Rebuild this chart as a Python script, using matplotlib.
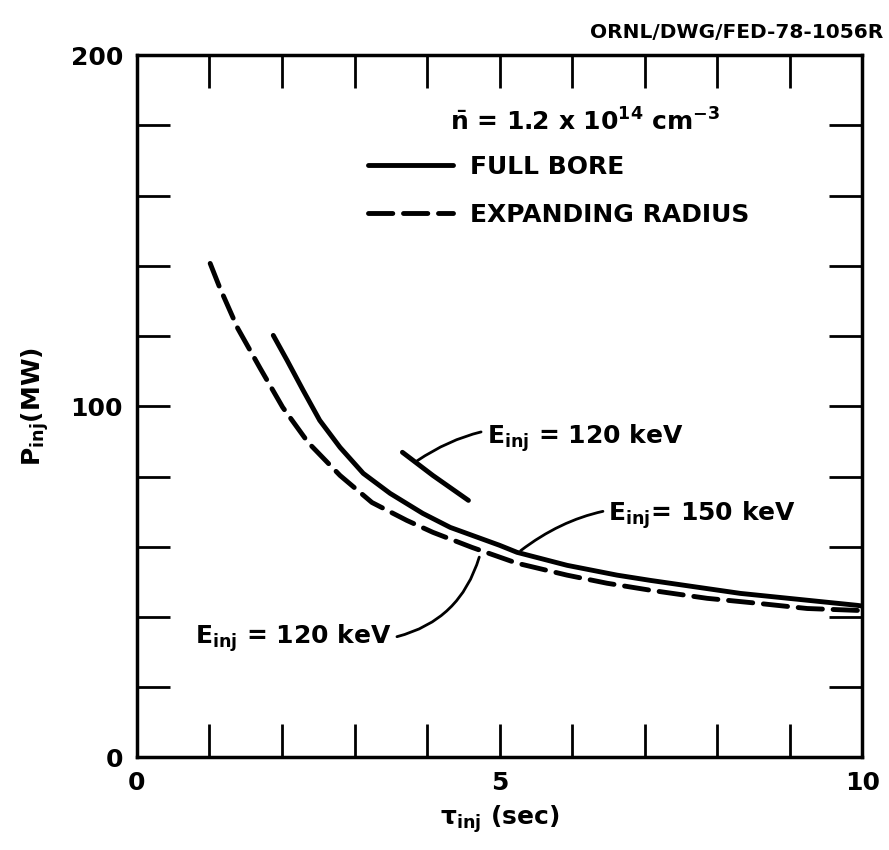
import matplotlib

matplotlib.use("Agg")
import matplotlib.pyplot as plt
from matplotlib.ticker import MultipleLocator

# Full bore, E_inj = 150 keV
full_150_x = [1.88, 2.07, 2.29, 2.52, 2.8, 3.12, 3.49, 3.94, 4.32, 5.0, 5.24,
              5.93, 6.62, 7.08, 8.32, 9.93, 10.0]
full_150_y = [120.2, 113.1, 104.6, 96, 88.3, 80.9, 75.2, 69.5, 65.5, 60.4, 58.4,
              54.7, 51.9, 50.4, 46.7, 43.3, 43.1]

# Expanding radius, E_inj = 120 keV
exp_120_x = [1.01, 1.14, 1.39, 1.70, 2.01, 2.36, 2.80, 3.24, 3.72, 4.08, 4.62,
             5.24, 5.93, 6.48, 7.08, 7.86, 8.55, 9.24, 9.88, 10.0]
exp_120_y = [140.7, 133.9, 122.2, 110.8, 99.7, 89.7, 80.3, 72.6, 67.5, 64.1, 59.8,
             55.3, 51.9, 49.6, 47.6, 45.3, 43.9, 42.4, 41.9, 41.8]

# Full bore, E_inj = 120 keV (short segment)
full_120_x = [3.66, 4.08, 4.57]
full_120_y = [86.9, 80.3, 73.2]

FS = 18
plt.rcParams["mathtext.default"] = "bf"

fig = plt.figure(figsize=(8.89, 8.5), dpi=100)
ax = fig.add_axes([0.154, 0.109, 0.816, 0.826])

lw = 3.5
h_full, = ax.plot(full_150_x, full_150_y, color="black", lw=lw,
                  solid_capstyle="round", solid_joinstyle="round", label="FULL BORE")
h_exp, = ax.plot(exp_120_x, exp_120_y, color="black", lw=lw,
                 dashes=(5, 2.2), dash_capstyle="round", dash_joinstyle="round",
                 label="EXPANDING RADIUS")
ax.plot(full_120_x, full_120_y, color="black", lw=lw, solid_capstyle="round")

ax.set_xlim(0, 10)
ax.set_ylim(0, 200)
ax.set_xticks([0, 5, 10])
ax.set_yticks([0, 100, 200])
ax.xaxis.set_minor_locator(MultipleLocator(1))
ax.yaxis.set_minor_locator(MultipleLocator(20))
ax.tick_params(which="both", direction="in", top=True, right=True,
               length=24, width=2, labelsize=FS, pad=10)
for lab in ax.get_xticklabels() + ax.get_yticklabels():
    lab.set_fontweight("bold")
for s in ax.spines.values():
    s.set_linewidth(2.5)

ax.set_xlabel(r"$\tau_{inj}$ (sec)", fontsize=FS, fontweight="bold", labelpad=6)
ax.set_ylabel(r"P$_{inj}$(MW)", fontsize=FS, fontweight="bold", labelpad=14)

fig.text(0.993, 0.962, "ORNL/DWG/FED-78-1056R", ha="right", va="center",
         fontsize=14.5, fontweight="bold")

ax.text(4.32, 181, r"$\bar{n}$ = 1.2 x 10$^{14}$ cm$^{-3}$", fontsize=FS,
        fontweight="bold", va="center")
ax.legend(handles=[h_full, h_exp], loc="upper left", bbox_to_anchor=(0.318, 0.858),
          frameon=False, handlelength=3.4, handletextpad=0.7,
          labelspacing=0.95, borderpad=0, borderaxespad=0,
          prop={"weight": "bold", "size": FS})

arrow = dict(arrowstyle="-", color="black", lw=2)
ax.annotate(r"E$_{inj}$ = 120 keV", xy=(3.83, 84), xytext=(4.82, 91),
            fontsize=FS, fontweight="bold", va="center",
            arrowprops=dict(arrow, connectionstyle="arc3,rad=0.25"))
ax.annotate(r"E$_{inj}$= 150 keV", xy=(5.26, 58.4), xytext=(6.5, 69),
            fontsize=FS, fontweight="bold", va="center",
            arrowprops=dict(arrow, connectionstyle="arc3,rad=0.25"))
ax.annotate(r"E$_{inj}$ = 120 keV", xy=(4.73, 57.8), xytext=(0.8, 34),
            fontsize=FS, fontweight="bold", va="center",
            arrowprops=dict(arrow, connectionstyle="arc3,rad=0.3",
                            relpos=(1.0, 0.5)))

fig.savefig("out.png", dpi=100)
